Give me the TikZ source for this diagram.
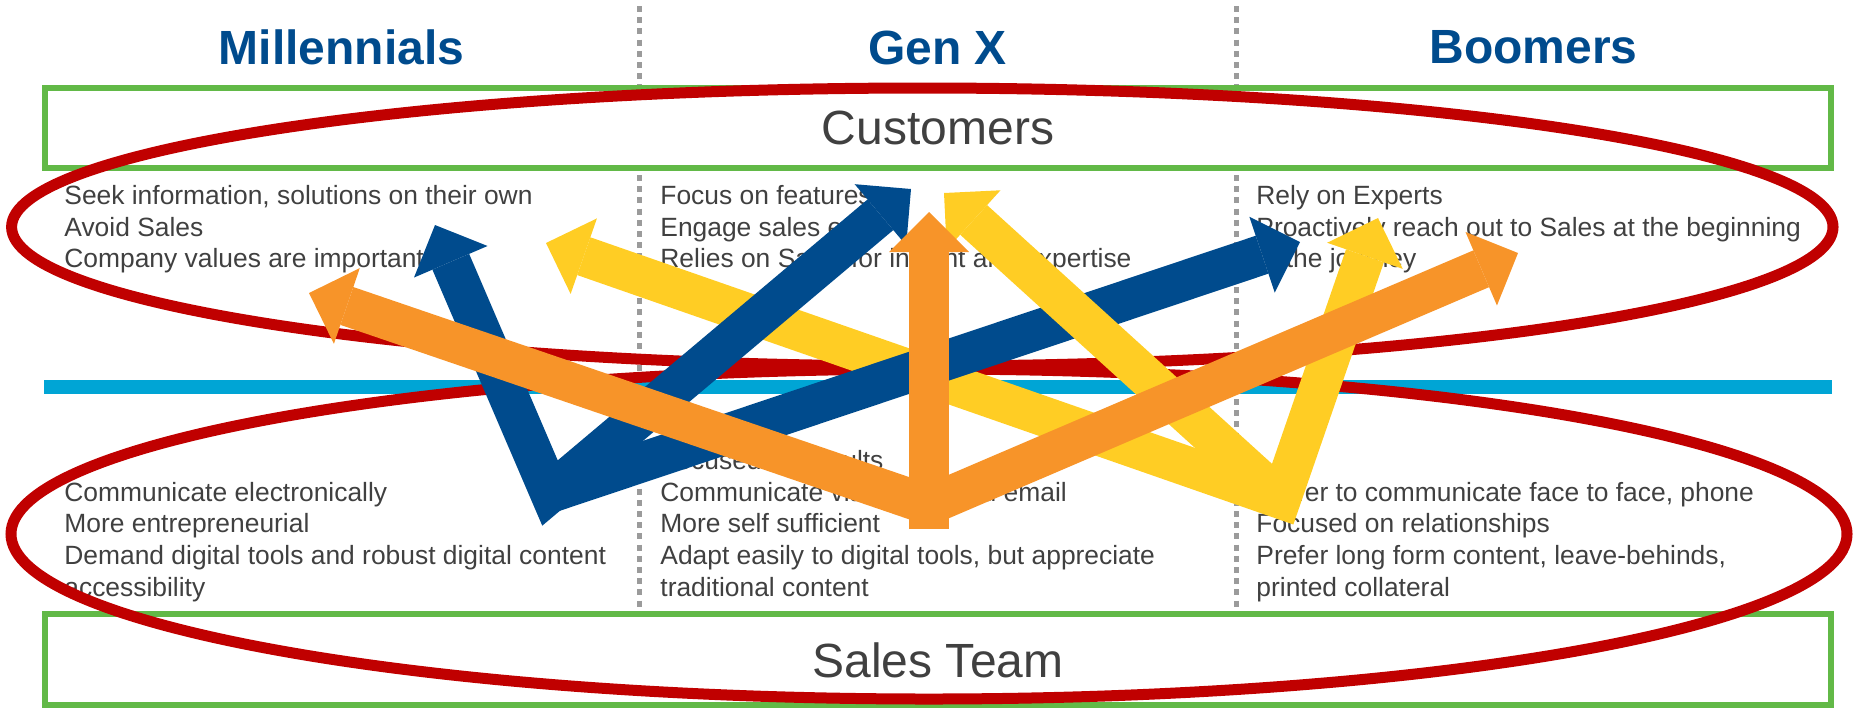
\documentclass[tikz,border=0pt]{standalone}
\usepackage{fontspec}
\setmainfont{Liberation Sans}
\usetikzlibrary{arrows.meta}
\definecolor{genblue}{RGB}{0,75,141}
\definecolor{genorange}{RGB}{247,148,41}
\definecolor{genyellow}{RGB}{255,205,36}
\definecolor{ringred}{RGB}{192,0,0}
\definecolor{boxgreen}{RGB}{98,185,71}
\definecolor{splitblue}{RGB}{0,165,213}
\definecolor{divgray}{RGB}{155,155,155}
\definecolor{txtgray}{RGB}{64,64,64}
\tikzset{
	bodytext/.style={inner sep=0pt, align=left, text=txtgray, font=\fontsize{13.2pt}{15.9pt}\selectfont},
	headtext/.style={inner sep=0pt, text=genblue, font=\fontsize{24pt}{28pt}\selectfont\bfseries},
	boxtext/.style={inner sep=0pt, text=txtgray, font=\fontsize{24pt}{28pt}\selectfont},
	genbox/.style={draw=boxgreen, line width=3pt},
	coldiv/.style={draw=divgray, line width=2.5pt, dash pattern=on 3pt off 2.6pt},
	ring/.style={draw=ringred, line width=5.5pt},
	fatarrow/.style={line width=20pt, line join=miter, {Triangle[length=20pt,width=40pt,line width=0pt]}-{Triangle[length=20pt,width=40pt,line width=0pt]}},
	fatsingle/.style={line width=20pt, -{Triangle[length=20pt,width=40pt,line width=0pt]}}
}

\begin{document}
\begin{tikzpicture}[x=0.5pt, y=-0.5pt]
			%%%%% START %%%%%
			\useasboundingbox (0,0) rectangle (1856,709);
			
			% column headings
			\node[headtext] (hmil) at (341.5,47.5) {Millennials};
			\node[headtext] (hgen) at (937.5,47.5) {Gen X};
			\node[headtext] (hboom) at (1533.5,47.5) {Boomers};
			
			% column dividers
			\draw[coldiv] (639.5,6) -- (639.5,85);
			\draw[coldiv] (639.5,175) -- (639.5,611);
			\draw[coldiv] (1236,6) -- (1236,85);
			\draw[coldiv] (1236,175) -- (1236,611);
			
			% customers / sales team bands
			\draw[genbox] (45,88) rectangle (1831,168);
			\node[boxtext] (cust) at (938,128) {Customers};
			\draw[genbox] (45,613.5) rectangle (1831,705);
			\node[boxtext] (sales) at (938,660) {Sales Team};
			
			% customer side
			\node[bodytext, anchor=north west] (mtop) at (64,181.7) {\strut Seek information, solutions on their own\\Avoid Sales\\Company values are important};
			\node[bodytext, anchor=north west] (gtop) at (660,181.7) {\strut Focus on features\\Engage sales early\\Relies on Sales for insight and expertise};
			\node[bodytext, anchor=north west] (btop) at (1256,181.7) {\strut Rely on Experts\\Proactively reach out to Sales at the beginning\\of the journey};
			
			% sales side
			\node[bodytext, anchor=south west] (mbot) at (64,606.5) {Communicate electronically\\More entrepreneurial\\Demand digital tools and robust digital content\\accessibility\strut};
			\node[bodytext, anchor=south west] (gbot) at (660,606.5) {Focused on results\\Communicate via phone and email\\More self sufficient\\Adapt easily to digital tools, but appreciate\\traditional content\strut};
			\node[bodytext, anchor=south west] (bbot) at (1256,606.5) {Prefer to communicate face to face, phone\\Focused on relationships\\Prefer long form content, leave-behinds,\\printed collateral\strut};
			
			\draw[splitblue, line width=7pt] (44,387) -- (1832,387);
			
			\draw[ring] (922.3,227) ellipse [x radius=910.7, y radius=139];
			\draw[ring] (929,534) ellipse [x radius=918, y radius=165];
			
			% arrow ends
			\coordinate (bV) at (550,493);
			\coordinate (bM) at (435,225);
			\coordinate (bG) at (911,189);
			\coordinate (bB) at (1300,242);
			
			\coordinate (oV) at (929,505);
			\coordinate (oVb) at (929,529);
			\coordinate (oM) at (309,293);
			\coordinate (oG) at (929,212);
			\coordinate (oB) at (1518,253);
			
			\coordinate (yV) at (1281,499);
			\coordinate (yM) at (546,243);
			\coordinate (yG) at (944,193);
			\coordinate (yB) at (1378,218);
			
			\draw[genyellow, fatarrow] (yM) -- (yV) -- (yB);
			\draw[genblue, fatarrow] (bM) -- (bV) -- (bG);
			\draw[genblue, fatsingle] (bV) -- (bB);
			\draw[genyellow, fatsingle] (yV) -- (yG);
			\draw[genorange, fatarrow] (oM) -- (oV) -- (oB);
			\draw[genorange, fatsingle] (oVb) -- (oG);
			
			%%%%% END %%%%%
\end{tikzpicture}
\end{document}
